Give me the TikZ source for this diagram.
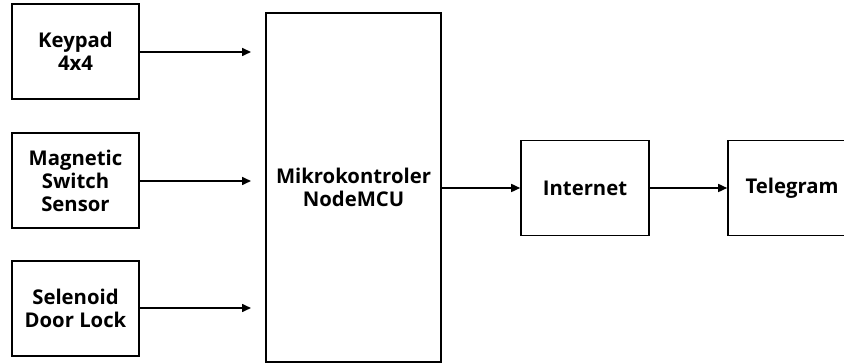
\documentclass[tikz,border=0pt]{standalone}
\usepackage{fontspec}
\setmainfont{Open Sans}
\usetikzlibrary{arrows.meta}
\begin{document}
\begin{tikzpicture}[x=1pt,y=-1pt,
  blk/.style={draw, line width=1.6pt, minimum width=127pt, minimum height=95pt, align=center, font=\fontsize{20.3}{23}\selectfont\bfseries, inner sep=0pt},
  arr/.style={line width=1.6pt, -{Triangle[length=9pt,width=8pt]}}]
\useasboundingbox (0,0) rectangle (844,363);
\node[blk] (kp) at (75.5,51.5) {Keypad\\4x4};
\node[blk] (ms) at (75.5,180.5) {Magnetic\\Switch\\Sensor};
\node[blk] (sd) at (75.5,308.5) {Selenoid\\Door Lock};
\node[blk, minimum width=175pt, minimum height=349pt] (mcu) at (353.5,187.5) {Mikrokontroler\\NodeMCU};
\node[blk, minimum width=128pt] (net) at (585,188) {Internet};
\node[blk, minimum width=128pt] (tg) at (792,188) {Telegram};
\coordinate (c1) at (251,52);
\coordinate (c2) at (251,181);
\coordinate (c3) at (251,308);
\draw[arr] (kp.east |- c1) -- (c1);
\draw[arr] (ms.east |- c2) -- (c2);
\draw[arr] (sd.east |- c3) -- (c3);
\draw[arr] (mcu.east |- net.west) -- (net.west);
\draw[arr] (net.east) -- (tg.west);
\end{tikzpicture}
\end{document}
